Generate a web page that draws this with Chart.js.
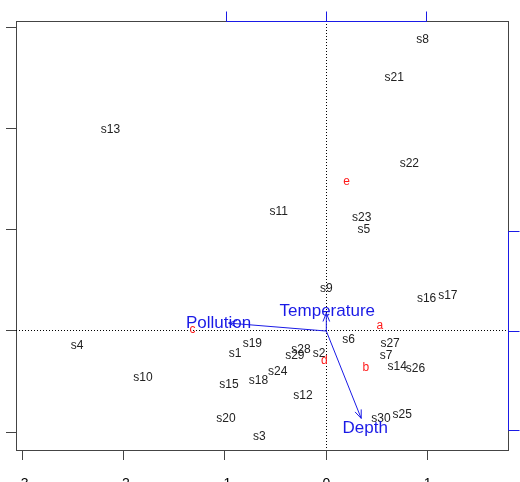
<!DOCTYPE html>
<html>
<head>
<meta charset="utf-8">
<script src="https://cdn.jsdelivr.net/npm/chart.js@4/dist/chart.umd.min.js"></script>
<style>
  html, body { margin: 0; padding: 0; overflow: hidden; background: #fff; width: 520px; height: 482px; }
  #wrap { position: absolute; left: -40px; top: 0; width: 560px; height: 510px; }
</style>
</head>
<body>
<div id="wrap"><canvas id="c" width="560" height="510"></canvas></div>
<script>
// --- Data ---
const sampleNames = ['s1','s2','s3','s4','s5','s6','s7','s8','s9','s10',
  's11','s12','s13','s14','s15','s16','s17','s18','s19','s20',
  's21','s22','s23','s24','s25','s26','s27','s28','s29','s30'];
const sampleX = [-0.90, -0.07, -0.66, -2.46, 0.37, 0.22, 0.59, 0.95, 0.00, -1.81,
  -0.47, -0.23, -2.13, 0.70, -0.96, 0.99, 1.20, -0.67, -0.73, -0.99,
  0.67, 0.82, 0.35, -0.48, 0.75, 0.88, 0.63, -0.25, -0.31, 0.54];
const sampleY = [-0.22, -0.22, -1.04, -0.15, 1.00, -0.09, -0.24, 2.88, 0.42, -0.46,
  1.18, -0.64, 1.99, -0.35, -0.53, 0.32, 0.35, -0.49, -0.13, -0.87,
  2.50, 1.65, 1.12, -0.40, -0.83, -0.37, -0.13, -0.18, -0.24, -0.87];

const speciesNames = ['a', 'b', 'c', 'd', 'e'];
const speciesX = [0.53, 0.39, -1.32, -0.02, 0.20];
const speciesY = [0.05, -0.36, 0.01, -0.29, 1.47];

// environmental arrows, on the secondary (top/right) scale
const envNames = ['Pollution', 'Temperature', 'Depth'];
const envX = [-0.98, 0.00, 0.35];
const envY = [0.08, 0.18, -0.88];
const envLabelX = [-1.08, 0.01, 0.39];
const envLabelY = [0.08, 0.20, -0.98];

const xTicks = [-3, -2, -1, 0, 1];
const yTicks = [-1, 0, 1, 2, 3];
const envTicks = [-1, 0, 1];

// --- Styles ---
const FONT = '"Liberation Sans", Arial, sans-serif';
const BOX = '#444';
const BLUE = '#1a1ae6';
const RED = '#ff1a1a';

const pts = (xs, ys) => xs.map((x, i) => ({ x: x, y: ys[i] }));
const align = p => Math.round(p - 0.5) + 0.5;

// draws text labels, dotted zero lines, arrowheads and the blue loading axes
const biplotPlugin = {
  id: 'biplot',
  beforeDatasetsDraw(chart) {
    const { ctx, chartArea: a, scales } = chart;
    const x0 = align(scales.x.getPixelForValue(0));
    const y0 = align(scales.y.getPixelForValue(0));
    ctx.save();
    ctx.strokeStyle = '#000';
    ctx.lineWidth = 1;
    ctx.setLineDash([1, 2]);
    ctx.beginPath();
    ctx.moveTo(x0, a.top);
    ctx.lineTo(x0, a.bottom);
    ctx.moveTo(a.left, y0);
    ctx.lineTo(a.right, y0);
    ctx.stroke();
    ctx.restore();
  },
  afterDatasetsDraw(chart) {
    const { ctx, scales } = chart;
    ctx.save();
    ctx.textAlign = 'center';
    ctx.textBaseline = 'middle';

    // sample labels
    ctx.font = '12px ' + FONT;
    ctx.fillStyle = '#222';
    chart.getDatasetMeta(0).data.forEach((el, i) => {
      ctx.fillText(sampleNames[i], el.x, el.y);
    });
    // species labels
    ctx.fillStyle = RED;
    chart.getDatasetMeta(1).data.forEach((el, i) => {
      ctx.fillText(speciesNames[i], el.x, el.y);
    });

    // arrowheads
    ctx.strokeStyle = BLUE;
    ctx.lineWidth = 1;
    envNames.forEach((n, i) => {
      const d = chart.getDatasetMeta(2 + i).data;
      const p0 = d[0], p1 = d[1];
      const ang = Math.atan2(p1.y - p0.y, p1.x - p0.x);
      const L = 9, w = 0.38;
      ctx.beginPath();
      ctx.moveTo(p1.x - L * Math.cos(ang - w), p1.y - L * Math.sin(ang - w));
      ctx.lineTo(p1.x, p1.y);
      ctx.lineTo(p1.x - L * Math.cos(ang + w), p1.y - L * Math.sin(ang + w));
      ctx.stroke();
    });

    // arrow labels
    ctx.font = '17px ' + FONT;
    ctx.fillStyle = BLUE;
    envNames.forEach((n, i) => {
      ctx.fillText(n, scales.x2.getPixelForValue(envLabelX[i]), scales.y2.getPixelForValue(envLabelY[i]));
    });
    ctx.restore();
  },
  afterDraw(chart) {
    // blue loading axes on top and right, over the box border
    const { ctx, chartArea: a, scales } = chart;
    const t = align(a.top), r = align(a.right);
    const xs = envTicks.map(v => align(scales.x2.getPixelForValue(v)));
    const ys = envTicks.map(v => align(scales.y2.getPixelForValue(v)));
    ctx.save();
    ctx.strokeStyle = BLUE;
    ctx.lineWidth = 1;
    ctx.beginPath();
    ctx.moveTo(xs[0], t); ctx.lineTo(xs[xs.length - 1], t);
    xs.forEach(x => { ctx.moveTo(x, t); ctx.lineTo(x, t - 10); });
    ctx.moveTo(r, ys[0]); ctx.lineTo(r, ys[ys.length - 1]);
    ys.forEach(y => { ctx.moveTo(r, y); ctx.lineTo(r + 11, y); });
    ctx.stroke();
    ctx.restore();
  }
};

const arrowSets = envNames.map((n, i) => ({
  type: 'line',
  label: n,
  data: [{ x: 0, y: 0 }, { x: envX[i], y: envY[i] }],
  xAxisID: 'x2',
  yAxisID: 'y2',
  borderColor: BLUE,
  borderWidth: 1,
  pointRadius: 0,
  fill: false
}));

new Chart(document.getElementById('c'), {
  type: 'scatter',
  data: {
    datasets: [
      { label: 'samples', data: pts(sampleX, sampleY), pointRadius: 0 },
      { label: 'species', data: pts(speciesX, speciesY), pointRadius: 0 }
    ].concat(arrowSets)
  },
  options: {
    responsive: false,
    animation: false,
    layout: { padding: 0 },
    plugins: { legend: { display: false }, tooltip: { enabled: false } },
    scales: {
      x: {
        type: 'linear', position: 'bottom', min: -3.063, max: 1.794,
        afterBuildTicks: s => { s.ticks = xTicks.map(v => ({ value: v })); },
        afterFit: s => { s.height = 60; },
        ticks: { padding: 16, color: '#000', font: { size: 14, family: FONT }, callback: v => String(v) },
        grid: { drawOnChartArea: false, tickLength: 10, color: BOX },
        border: { color: BOX }
      },
      y: {
        type: 'linear', position: 'left', min: -1.175, max: 3.06,
        afterBuildTicks: s => { s.ticks = yTicks.map(v => ({ value: v })); },
        afterFit: s => { s.width = 56; },
        ticks: { display: false },
        grid: { drawOnChartArea: false, tickLength: 10, color: BOX },
        border: { color: BOX }
      },
      x2: {
        type: 'linear', position: 'top', min: -3.112, max: 1.822,
        afterFit: s => { s.height = 21; },
        ticks: { display: false },
        grid: { display: false },
        border: { color: BOX }
      },
      y2: {
        type: 'linear', position: 'right', min: -1.198, max: 3.122,
        afterFit: s => { s.width = 12; },
        ticks: { display: false },
        grid: { display: false },
        border: { color: BOX }
      }
    }
  },
  plugins: [biplotPlugin]
});
</script>
</body>
</html>
